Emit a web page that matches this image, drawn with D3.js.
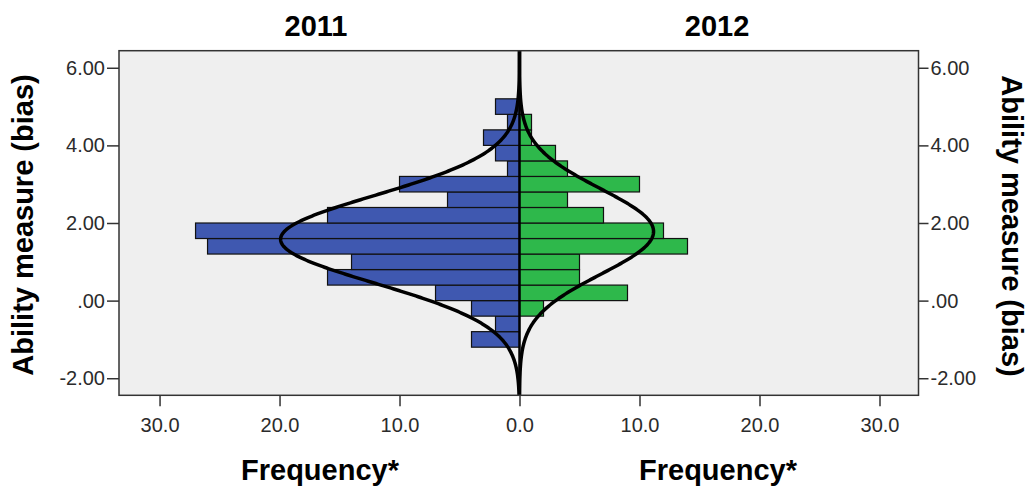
<!DOCTYPE html>
<html>
<head>
<meta charset="utf-8">
<title>Ability measure by year</title>
<script src="https://d3js.org/d3.v7.min.js"></script>
<style>
  body { margin: 0; background: #fff; }
  text { font-family: "Liberation Sans", Arial, sans-serif; }
  .tick text { fill: #2b2b2b; }
</style>
</head>
<body>
<div id="chart"></div>
<script>
// bin lower edges (ability measure), bin width 0.4
var binStarts = [-1.2, -0.8, -0.4, 0.0, 0.4, 0.8, 1.2, 1.6, 2.0, 2.4, 2.8, 3.2, 3.6, 4.0, 4.4, 4.8];
var binWidth = 0.4;
var freq2011 = [4, 2, 4, 7, 16, 14, 26, 27, 16, 6, 10, 1, 2, 3, 1, 2];
var freq2012 = [0, 0, 2, 9, 5, 5, 14, 12, 7, 4, 10, 4, 3, 1, 1, 0];
// fitted normal curves (mean, sd)
var fit2011 = {mean: 1.58, sd: 1.13};
var fit2012 = {mean: 1.78, sd: 1.10};
var yTicks = [-2, 0, 2, 4, 6];
var yTickLabels = ["-2.00", ".00", "2.00", "4.00", "6.00"];
var xTicks = [0, 10, 20, 30];

var W = 1029, H = 486;
var pLeft = 119, pRight = 918.5, pTop = 50.7, pBottom = 395.3, pMid = 519.5;

var svg = d3.select("#chart").append("svg").attr("width", W).attr("height", H);

var y = d3.scaleLinear().domain([-2.44, 6.44]).range([pBottom, pTop]);
var xL = d3.scaleLinear().domain([0, 33.38]).range([pMid, pLeft]);
var xR = d3.scaleLinear().domain([0, 33.25]).range([pMid, pRight]);

// plot background
svg.append("rect").attr("x", pLeft).attr("y", pTop)
  .attr("width", pRight - pLeft).attr("height", pBottom - pTop)
  .attr("fill", "#efefef");

function bars(data, x, color, side) {
  svg.append("g").selectAll("rect")
    .data(data.map(function(v, i) { return {start: binStarts[i], v: v}; }).filter(function(d){ return d.v > 0; }))
    .enter().append("rect")
    .attr("x", function(d) { return side < 0 ? x(d.v) : x(0); })
    .attr("width", function(d) { return Math.abs(x(d.v) - x(0)); })
    .attr("y", function(d) { return y(d.start + binWidth); })
    .attr("height", function(d) { return y(d.start) - y(d.start + binWidth); })
    .attr("fill", color)
    .attr("stroke", "#111")
    .attr("stroke-width", 1.2);
}
bars(freq2011, xL, "#3f58b0", -1);
bars(freq2012, xR, "#2eb84b", 1);

// centre line
svg.append("line").attr("x1", pMid).attr("x2", pMid).attr("y1", pTop).attr("y2", pBottom)
  .attr("stroke", "#000").attr("stroke-width", 2.5);

function curve(data, fit, x) {
  var n = d3.sum(data);
  var pts = d3.range(-2.44, 6.445, 0.02).map(function(t) {
    var z = (t - fit.mean) / fit.sd;
    return [x(n * binWidth * Math.exp(-0.5 * z * z) / (fit.sd * Math.sqrt(2 * Math.PI))), y(t)];
  });
  svg.append("path").attr("d", d3.line()(pts))
    .attr("fill", "none").attr("stroke", "#000").attr("stroke-width", 3.5);
}
curve(freq2011, fit2011, xL);
curve(freq2012, fit2012, xR);

// frame
svg.append("rect").attr("x", pLeft).attr("y", pTop)
  .attr("width", pRight - pLeft).attr("height", pBottom - pTop)
  .attr("fill", "none").attr("stroke", "#333").attr("stroke-width", 1.5);

var fmtY = function(d) { return yTickLabels[yTicks.indexOf(d)]; };
var gyl = svg.append("g").attr("transform", "translate(" + pLeft + ",0)")
  .call(d3.axisLeft(y).tickValues(yTicks).tickFormat(fmtY).tickSize(12).tickPadding(2));
var gyr = svg.append("g").attr("transform", "translate(" + pRight + ",0)")
  .call(d3.axisRight(y).tickValues(yTicks).tickFormat(fmtY).tickSize(10).tickPadding(2));
var gxl = svg.append("g").attr("transform", "translate(0," + pBottom + ")")
  .call(d3.axisBottom(xL).tickValues(xTicks).tickFormat(d3.format(".1f")).tickSize(11).tickPadding(12));
var gxr = svg.append("g").attr("transform", "translate(0," + pBottom + ")")
  .call(d3.axisBottom(xR).tickValues(xTicks.slice(1)).tickFormat(d3.format(".1f")).tickSize(11).tickPadding(12));
[gyl, gyr, gxl, gxr].forEach(function(g) {
  g.select(".domain").remove();
  g.selectAll(".tick line").attr("stroke", "#333").attr("stroke-width", 1.5);
  g.selectAll(".tick text").attr("font-size", 20);
});

// titles
function label(txt, x, yy, rot) {
  svg.append("text").attr("transform", "translate(" + x + "," + yy + ") rotate(" + rot + ")")
    .attr("text-anchor", "middle").attr("font-size", 29).attr("font-weight", "bold")
    .attr("fill", "#000").text(txt);
}
label("2011", 316, 36, 0);
label("2012", 717, 36, 0);
label("Frequency*", 320, 480, 0);
label("Frequency*", 718, 480, 0);
label("Ability measure (bias)", 33, 225, -90);
label("Ability measure (bias)", 1002, 226, 90);
</script>
</body>
</html>
